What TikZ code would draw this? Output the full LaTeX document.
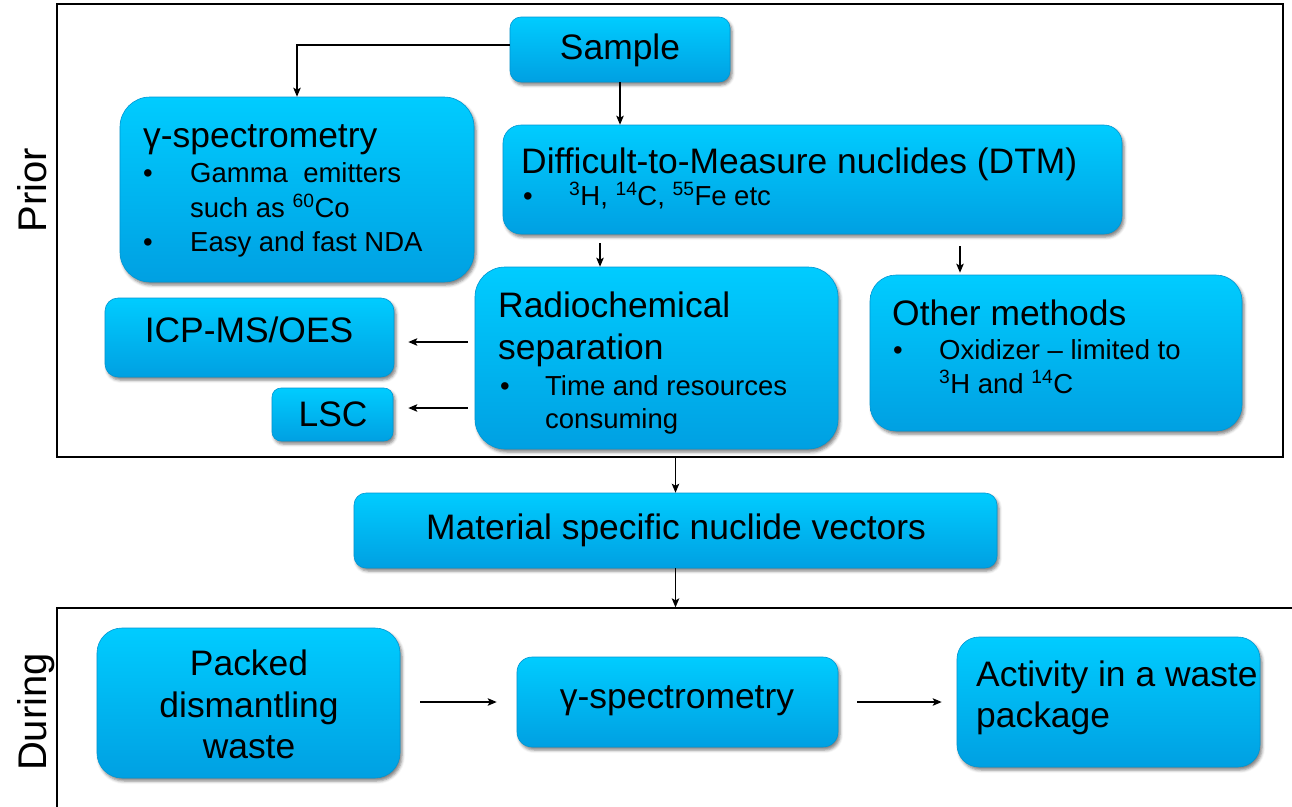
\documentclass[tikz,border=0pt]{standalone}
\usepackage{fontspec}
\setmainfont{Liberation Sans}
\usetikzlibrary{arrows.meta,shadows.blur}
\definecolor{boxtop}{RGB}{0,204,255}
\definecolor{boxbot}{RGB}{0,160,226}
\definecolor{boxedge}{RGB}{0,150,210}
\newcommand{\tfont}{\fontsize{35.4}{42}\selectfont}
\newcommand{\bfont}{\fontsize{27.5}{34}\selectfont}
\newcommand{\mkbox}[6]{\node[box, rounded corners=#6pt, minimum width={(#4-#2)*1pt}, minimum height={(#5-#3)*1pt}] (#1) at ({(#2+#4)/2},{(#3+#5)/2}) {};}
\tikzset{
  box/.style={rectangle, draw=boxedge, line width=0.6pt, top color=boxtop, bottom color=boxbot, inner sep=0pt,
    blur shadow={shadow xshift=2pt, shadow yshift=-3pt, shadow blur radius=3pt, shadow opacity=50}},
  frame/.style={rectangle, draw=black, line width=1.3pt, inner sep=0pt},
  ttl/.style={font=\tfont, inner sep=0pt, anchor=base west},
  ttlc/.style={font=\tfont, inner sep=0pt, anchor=base},
  btx/.style={font=\bfont, inner sep=0pt, anchor=base west},
  side/.style={font=\fontsize{40}{48}\selectfont, inner sep=0pt, anchor=base, rotate=90},
  arr/.style={-{Stealth[length=9pt,width=7.5pt,inset=2pt]}, line width=1.3pt, black}
}
\begin{document}
\begin{tikzpicture}[x=1pt,y=-1pt]
\useasboundingbox (0,0) rectangle (1292,806);
% frames
\node[frame, minimum width=1226pt, minimum height=453pt] (prior) at (670,230.5) {};
\node[frame, minimum width=1253pt, minimum height=222pt] (during) at (683.5,719) {};
\node[side] (priorL) at (46,190) {Prior};
\node[side] (duringL) at (46,712) {During};
% boxes
\mkbox{sample}{510}{17}{730}{82}{11}
\mkbox{gtop}{120}{97}{474}{282}{30}
\mkbox{dtm}{503}{125}{1122}{234}{18}
\mkbox{icp}{105}{298}{394}{377}{13}
\mkbox{lsc}{272}{388}{393}{441}{9}
\mkbox{radio}{475}{267}{838}{449}{30}
\mkbox{other}{870}{275}{1242}{431}{26}
\mkbox{material}{354}{493}{997}{568}{12}
\mkbox{packed}{97}{628}{400}{778}{25}
\mkbox{gbot}{517}{657}{838}{747}{15}
\mkbox{activity}{957}{637}{1260}{767}{22}
% texts
\node[ttlc] (sampleT) at (620,59) {Sample};
\node[ttl] (gT) at (143,147) {γ-spectrometry};
\node[btx] (gB1) at (143,182) {•};
\node[btx] (gL1) at (190,182) {Gamma\ \ emitters};
\node[btx] (gL2) at (190,217) {such as \textsuperscript{60}Co};
\node[btx] (gB2) at (143,251) {•};
\node[btx] (gL3) at (190,251) {Easy and fast NDA};
\node[ttl] (dtmT) at (521,173) {Difficult-to-Measure nuclides (DTM)};
\node[btx] (dtmB) at (523,205) {•};
\node[btx] (dtmL) at (569,205) {\textsuperscript{3}H, \textsuperscript{14}C, \textsuperscript{55}Fe etc};
\node[ttlc] (icpT) at (249,342) {ICP-MS/OES};
\node[ttlc] (lscT) at (333,426) {LSC};
\node[ttl] (radT1) at (498,317) {Radiochemical};
\node[ttl] (radT2) at (498,359) {separation};
\node[btx] (radB) at (500,395) {•};
\node[btx] (radL1) at (545,395) {Time and resources};
\node[btx] (radL2) at (545,428) {consuming};
\node[ttl] (othT) at (892,325) {Other methods};
\node[btx] (othB) at (893,359) {•};
\node[btx] (othL1) at (939,359) {Oxidizer -- limited to};
\node[btx] (othL2) at (939,393) {\textsuperscript{3}H and \textsuperscript{14}C};
\node[ttlc] (matT) at (676,539) {Material specific nuclide vectors};
\node[ttlc] (pk1) at (249,675) {Packed};
\node[ttlc] (pk2) at (249,717) {dismantling};
\node[ttlc] (pk3) at (249,758) {waste};
\node[ttlc] (gbotT) at (677,708) {γ-spectrometry};
\node[ttl] (act1) at (976,686) {Activity in a waste};
\node[ttl] (act2) at (976,727) {package};
% connectors
\draw[arr] (sample.west |- 0,45) -| (gtop.north);
\draw[arr] (sample.south) -- (sample.south |- dtm.north);
\draw[arr, shorten <=9pt] (600,0 |- dtm.south) -- (600,0 |- radio.north);
\draw[arr, shorten <=12pt, shorten >=2pt] (960,0 |- dtm.south) -- (960,0 |- other.north);
\draw[arr, shorten <=7pt, shorten >=14pt] (radio.west |- 0,342) -- (icp.east |- 0,342);
\draw[arr, shorten <=7pt, shorten >=15pt] (radio.west |- 0,408) -- (lsc.east |- 0,408);
\draw[arr] (prior.south -| material.north) -- (material.north);
\draw[arr] (material.south) -- (material.south |- during.north);
\draw[arr, shorten <=20pt, shorten >=20pt] (packed.east |- 0,702) -- (gbot.west |- 0,702);
\draw[arr, shorten <=19pt, shorten >=15pt] (gbot.east |- 0,702) -- (activity.west |- 0,702);
\end{tikzpicture}
\end{document}
